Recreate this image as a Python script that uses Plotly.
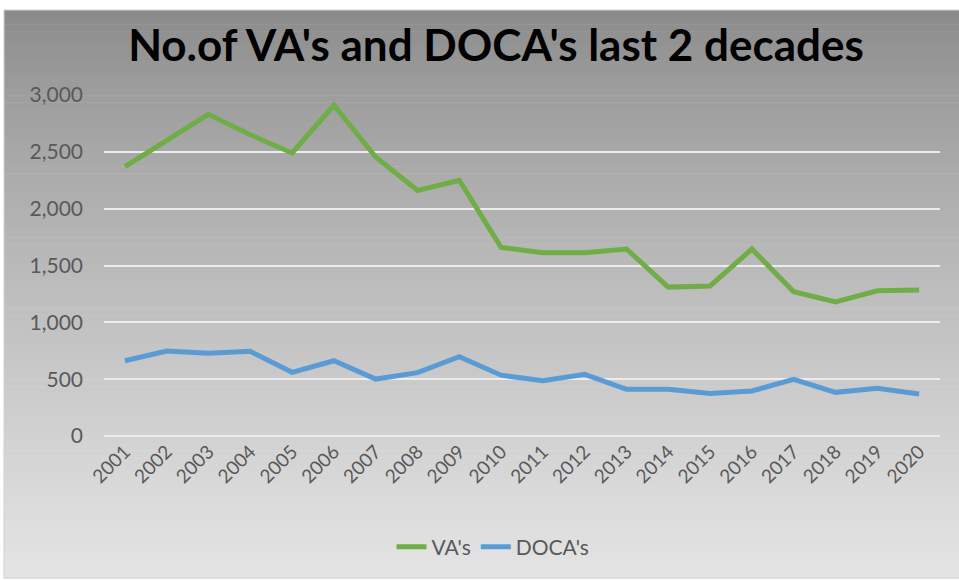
import plotly.graph_objects as go

years = [str(y) for y in range(2001, 2021)]
vas = [2370, 2600, 2830, 2650, 2490, 2910, 2455, 2160, 2250, 1660,
       1612, 1612, 1645, 1310, 1320, 1645, 1270, 1180, 1278, 1284]
docas = [662, 748, 727, 745, 560, 662, 501, 557, 697, 535,
         486, 543, 411, 411, 375, 396, 499, 384, 419, 369]
y_ticks = [0, 500, 1000, 1500, 2000, 2500, 3000]

W, H = 959, 580
L, R, T, B = 104, 19, 95, 144
pw, ph = W - L - R, H - T - B

def px_to_paper_x(x):
    return (x - L) / pw

def px_to_paper_y(y):
    return (H - B - y) / ph

fig = go.Figure()
fig.add_trace(go.Scatter(x=years, y=vas, name="VA's", mode="lines",
                         line=dict(color="#70ad47", width=5)))
fig.add_trace(go.Scatter(x=years, y=docas, name="DOCA's", mode="lines",
                         line=dict(color="#5b9bd5", width=5)))

# gradient background bands
top_px, bot_px = 10, 578
left_px, right_px = 4, 959
n = 80
c0, c1 = 0x8a, 0xe4
shapes = []
for i in range(n):
    y0 = top_px + (bot_px - top_px) * i / n
    y1 = top_px + (bot_px - top_px) * (i + 1) / n + 0.5
    t = i / (n - 1)
    c = int(round(c0 + (c1 - c0) * (t ** 0.8)))
    col = f"rgb({c},{c},{c})"
    shapes.append(dict(type="rect", xref="paper", yref="paper", layer="below",
                       x0=px_to_paper_x(left_px), x1=px_to_paper_x(right_px),
                       y0=px_to_paper_y(y1), y1=px_to_paper_y(y0),
                       fillcolor=col, line=dict(width=0)))
shapes.append(dict(type="rect", xref="paper", yref="paper", layer="below",
                   x0=px_to_paper_x(left_px), x1=px_to_paper_x(right_px + 2),
                   y0=px_to_paper_y(bot_px), y1=px_to_paper_y(top_px),
                   fillcolor="rgba(0,0,0,0)", line=dict(width=1, color="#d0d0d0")))

fig.update_layout(
    width=W, height=H,
    margin=dict(l=L, r=R, t=T, b=B),
    paper_bgcolor="white",
    plot_bgcolor="rgba(0,0,0,0)",
    shapes=shapes,
    title=dict(text="<b>No.of VA's and DOCA's last 2 decades</b>",
               font=dict(family="Lato", size=44, color="black"),
               x=496 / W, xref="container", xanchor="center",
               y=1 - 46 / H, yref="container", yanchor="middle"),
    font=dict(family="Lato", color="#595959"),
    showlegend=True,
    legend=dict(orientation="h", x=px_to_paper_x(493), xanchor="center",
                y=px_to_paper_y(547), yanchor="middle",
                font=dict(size=21, color="#595959"),
                bgcolor="rgba(0,0,0,0)"),
    xaxis=dict(type="category", range=[-0.5, 19.5], tickangle=-45,
               showgrid=False, showline=False, ticks="",
               tickfont=dict(size=19, color="#595959")),
    yaxis=dict(range=[0, 3000], tickvals=y_ticks, tickformat=",",
               showgrid=True, gridcolor="#ececec", gridwidth=2,
               zeroline=True, zerolinecolor="#ececec", zerolinewidth=2,
               showline=False, ticks="", ticklabelstandoff=20,
               tickfont=dict(size=21, color="#595959")),
)

fig.write_html("out.html")
